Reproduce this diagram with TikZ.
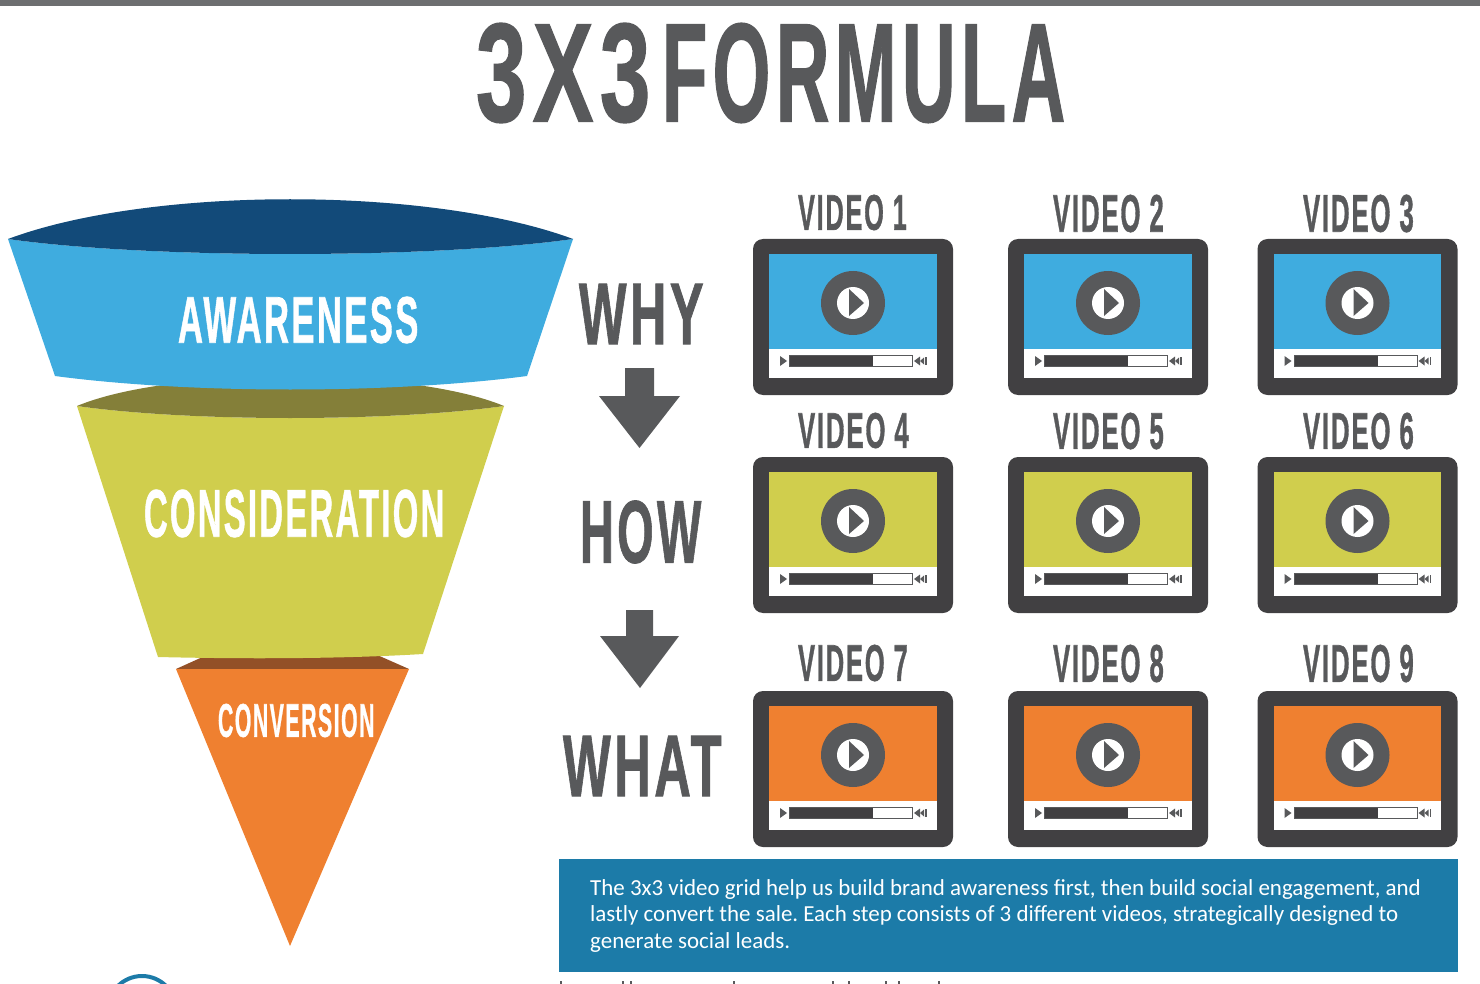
\documentclass[tikz,border=0pt]{standalone}
\usepackage{fontspec}
\usepackage{graphicx}
\setmainfont{Carlito}
\newfontfamily\headfont{Liberation Sans}[BoldFeatures={LetterSpace=7,FakeBold=1.2}]
\definecolor{ink}{HTML}{58595B}
\definecolor{tiledark}{HTML}{414042}
\definecolor{skyblue}{HTML}{3FACDF}
\definecolor{navyblue}{HTML}{124A79}
\definecolor{olivetop}{HTML}{847F39}
\definecolor{yellowgreen}{HTML}{D0CE4D}
\definecolor{brownish}{HTML}{935027}
\definecolor{orangefill}{HTML}{EF8030}
\definecolor{tealbox}{HTML}{1C7BA8}
\definecolor{topbar}{HTML}{6D6E70}
\tikzset{
  headlabel/.style={inner sep=0pt,outer sep=0pt,anchor=center},
  arrowshape/.style={fill=ink,draw=none},
}
% name, x1, x2, y1, y2, colour, text
\newcommand{\headtext}[7]{%
  \node[headlabel,text=#6] (#1) at ({(#2+#3)/2},{(#4+#5)/2})
    {\resizebox{\dimexpr #3pt-#2pt\relax}{\dimexpr #5pt-#4pt\relax}{\headfont\bfseries #7\kern-0.07em}};}
% fill colour, x, y
\newcommand{\videotile}[3]{%
  \begin{scope}[shift={(#2,#3)}]
    \fill[tiledark,rounded corners=10pt] (0,0) rectangle (200,156);
    \fill[white] (16,15) rectangle (183.5,139);
    \fill[#1] (16,15) rectangle (183.5,110);
    \fill[ink] (100,64) circle[radius=32];
    \fill[white] (100,64) circle[radius=16];
    \fill[ink] (96,50) -- (111,64) -- (96,77) -- cycle;
    \fill[ink] (27,117) -- (34,122) -- (27,127) -- cycle;
    \draw[ink,line width=1pt,fill=white] (36.5,116.5) rectangle (159.5,127.5);
    \fill[tiledark] (37,117) rectangle (120,127);
    \fill[ink] (161,122) -- (167,117.5) -- (167,126.5) -- cycle;
    \fill[ink] (167,122) -- (171,118.5) -- (171,125.5) -- cycle;
    \fill[ink] (172,118) rectangle (173.5,126);
  \end{scope}}
\begin{document}
\begin{tikzpicture}[x=1pt,y=-1pt]
\useasboundingbox (0,0) rectangle (1480,984);
\begin{scope}
\clip (0,0) rectangle (1480,984);
\fill[topbar] (0,0) rectangle (1480,6);

% bottom fragments cut by the page edge
\draw[tealbox,line width=4pt] (142,1010) circle[radius=34];
\foreach \mx in {560,622,630,733,832,848,885,898,938}
  \fill[ink] (\mx,981) rectangle ++(1.6,3);

% funnel, lowest first
\fill[brownish] (176,669) -- (207,655) -- (375,654) -- (409,669) -- cycle;
\fill[orangefill] (176,669) -- (409,669) -- (290,946) -- cycle;
\fill[yellowgreen] (77,406) .. controls (190,422) and (390,422) .. (504,406)
  -- (423,654) .. controls (340,659) and (240,659) .. (158,657) -- cycle;
\fill[olivetop] (77,406) .. controls (170,367) and (410,367) .. (504,406)
  .. controls (390,422) and (190,422) .. (77,406) -- cycle;
\fill[skyblue] (8,239) .. controls (150,259) and (430,259) .. (573,239)
  -- (527,376) .. controls (390,394) and (190,394) .. (55,376) -- cycle;
\fill[navyblue] (8,239) .. controls (150,186) and (430,186) .. (573,239)
  .. controls (430,259) and (150,259) .. (8,239) -- cycle;

% arrows
\fill[arrowshape] (625,368) -- (654,368) -- (654,396) -- (680,396) -- (639.5,448)
  -- (599,396) -- (625,396) -- cycle;
\fill[arrowshape] (626,610) -- (653,610) -- (653,636) -- (679,636) -- (640,688)
  -- (600,636) -- (626,636) -- cycle;

% video tiles
\foreach \tx in {753,1008,1257.5} {
  \videotile{skyblue}{\tx}{239}
  \videotile{yellowgreen}{\tx}{457}
  \videotile{orangefill}{\tx}{691}
}

% text box
\fill[tealbox] (559,859) rectangle (1458,972);
\node[inner sep=0pt,anchor=north west,align=left,text=white,
      font=\fontsize{22.95}{26.7}\selectfont\frenchspacing] (blurb) at (590,879)
  {The 3x3 video grid help us build brand awareness first, then build social engagement, and\\
   lastly convert the sale. Each step consists of 3 different videos, strategically designed to\\
   generate social leads.};
\end{scope}

% headings
\headtext{title3x3}{476}{644}{24}{122}{ink}{3X3}
\headtext{titleformula}{662}{1060}{24}{122}{ink}{FORMULA}
\headtext{awareness}{178}{416}{297}{343}{white}{AWARENESS}
\headtext{consideration}{144}{442}{490}{537}{white}{CONSIDERATION}
\headtext{conversion}{218}{373}{704}{737}{white}{CONVERSION}
\headtext{why}{579}{700}{284}{344}{ink}{WHY}
\headtext{how}{580}{698}{501}{563}{ink}{HOW}
\headtext{what}{563}{718}{736}{796}{ink}{WHAT}
\headtext{v1}{798}{905}{195}{230}{ink}{VIDEO 1}
\headtext{v2}{1053}{1162}{195}{232}{ink}{VIDEO 2}
\headtext{v3}{1303}{1412}{195}{232}{ink}{VIDEO 3}
\headtext{v4}{798}{907}{413}{448}{ink}{VIDEO 4}
\headtext{v5}{1053}{1162}{413}{449}{ink}{VIDEO 5}
\headtext{v6}{1303}{1412}{413}{449}{ink}{VIDEO 6}
\headtext{v7}{798}{906}{645}{681}{ink}{VIDEO 7}
\headtext{v8}{1053}{1162}{645}{682}{ink}{VIDEO 8}
\headtext{v9}{1303}{1412}{645}{682}{ink}{VIDEO 9}
\end{tikzpicture}
\end{document}
